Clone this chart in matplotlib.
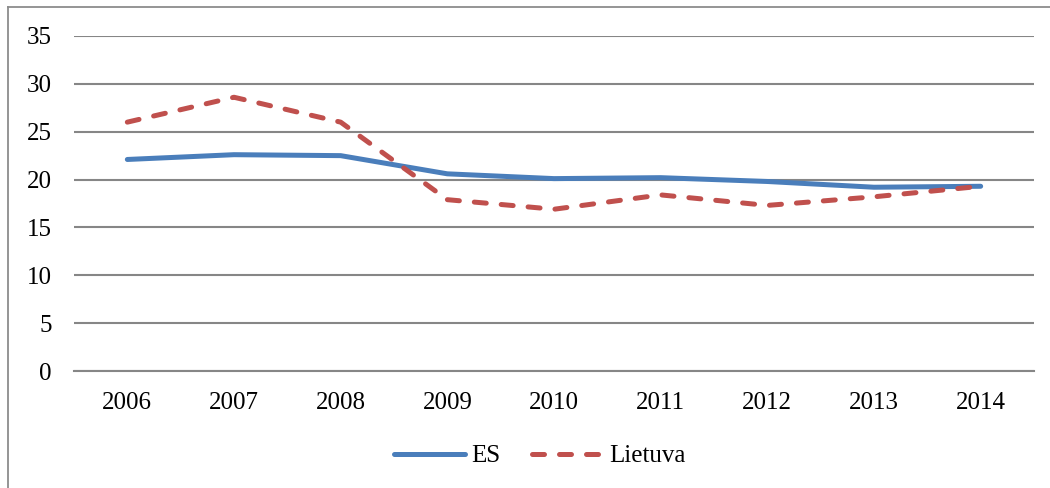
import matplotlib
matplotlib.use("Agg")
import matplotlib.pyplot as plt
from matplotlib.lines import Line2D

# data
years = ["2006", "2007", "2008", "2009", "2010", "2011", "2012", "2013", "2014"]
es = [22.1, 22.6, 22.5, 20.6, 20.1, 20.2, 19.8, 19.2, 19.3]
lietuva = [26.0, 28.6, 26.0, 17.9, 16.9, 18.4, 17.3, 18.2, 19.3]

plt.rcParams['font.family'] = ['Liberation Serif', 'DejaVu Serif']

fig = plt.figure(figsize=(10.5, 4.88), dpi=100)
ax = fig.add_axes([74 / 1050, 1 - 371 / 488, 960 / 1050, 335 / 488])

x = range(len(years))
ax.plot(x, es, color='#4a7ebb', lw=3.6, solid_capstyle='round', label='ES')
ax.plot(x, lietuva, color='#c0504d', lw=3.6, dashes=(2.4, 3.0),
        dash_capstyle='round', label='Lietuva')

ax.set_xlim(-0.5, len(years) - 0.5)
ax.set_ylim(0, 35)
ax.set_yticks(range(0, 36, 5))
ax.set_xticks(list(x))
ax.set_xticklabels(years)
ax.yaxis.grid(True, color='#868686', lw=1.5)
ax.set_axisbelow(True)
for s in ['left', 'right', 'top']:
    ax.spines[s].set_visible(False)
ax.spines['bottom'].set_color('#868686')
ax.spines['bottom'].set_linewidth(1.5)
ax.tick_params(axis='both', length=0, labelsize=18, colors='black')
ax.tick_params(axis='y', pad=16)
ax.tick_params(axis='x', pad=15)

leg = fig.legend(loc='center', bbox_to_anchor=(540 / 1050, 1 - 456 / 488),
                 ncol=2, frameon=False, fontsize=18, handlelength=2.85,
                 handletextpad=0.25, columnspacing=1.25)

# chart frame (only left and top edges fall inside the picture)
fig.add_artist(Line2D([7.5 / 1050, 7.5 / 1050], [0, 1 - 7 / 488],
                      transform=fig.transFigure, color='#8c8c8c', lw=1.3))
fig.add_artist(Line2D([7.5 / 1050, 1], [1 - 7 / 488, 1 - 7 / 488],
                      transform=fig.transFigure, color='#8c8c8c', lw=1.3))

fig.savefig('out.png', dpi=100)
